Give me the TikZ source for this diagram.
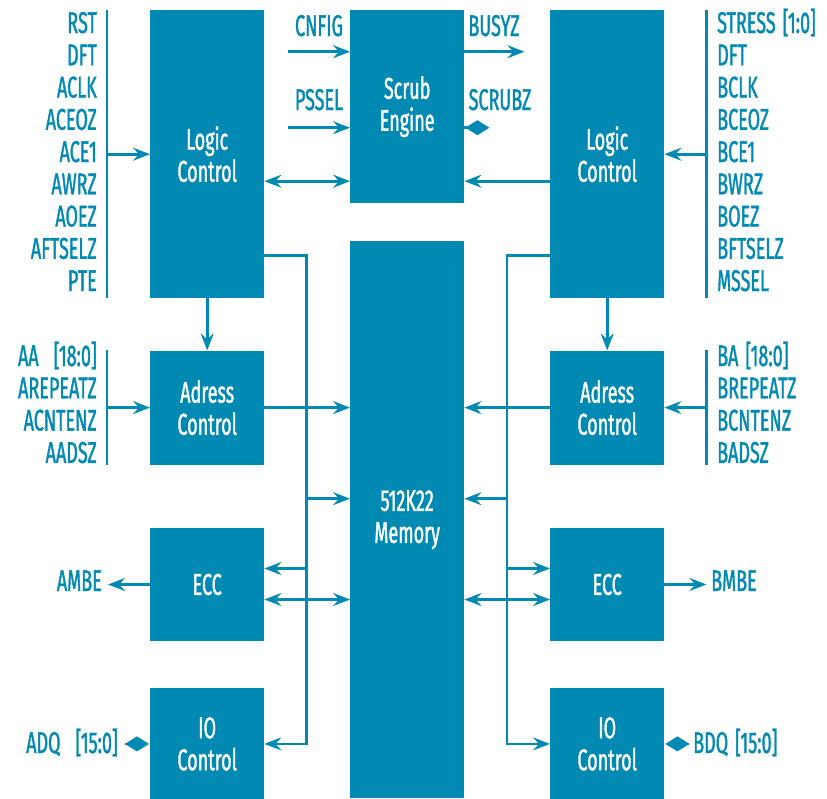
\documentclass[tikz,border=0pt]{standalone}
\usepackage{fontspec}
\setmainfont{Fira Sans}[FakeStretch=0.6, FakeBold=1.2]
\usetikzlibrary{arrows.meta,positioning}
\definecolor{tiblue}{RGB}{0,137,179}

\begin{document}
\begin{tikzpicture}[
        x=1pt, y=-1pt,
        font=\fontsize{30pt}{32pt}\selectfont,
        box/.style={fill=tiblue, text=white, align=center, minimum width=114pt, inner sep=0pt},
        lbl/.style={text=tiblue, inner sep=1pt},
        wire/.style={draw=tiblue, line width=2.6pt},
        arr/.style={wire, -{Stealth[length=17pt,width=13pt,inset=6pt]}},
        darr/.style={wire, {Stealth[length=17pt,width=13pt,inset=6pt]}-{Stealth[length=17pt,width=13pt,inset=6pt]}},
        dia/.style={wire, -{Diamond[length=24pt,width=15pt]}}
    ]
    \useasboundingbox (0,0) rectangle (827,798);

    % blocks
    \node[box, minimum height=288pt, anchor=north west] (lcl) at (150,10) {Logic\\Control};
    \node[box, minimum height=193pt, anchor=north west] (scrub) at (350,10) {Scrub\\Engine};
    \node[box, minimum height=288pt, anchor=north west] (lcr) at (550,10) {Logic\\Control};
    \node[box, minimum height=557pt, anchor=north west] (mem) at (350,241) {512K22\\Memory};
    \node[box, minimum height=114pt, below=52pt of lcl] (ada) {Adress\\Control};
    \node[box, minimum height=113pt, below=63pt of ada] (ecca) {ECC};
    \node[box, minimum height=111pt, below=47pt of ecca] (ioa) {IO\\Control};
    \node[box, minimum height=114pt, below=52pt of lcr] (adr) {Adress\\Control};
    \node[box, minimum height=113pt, below=63pt of adr] (eccr) {ECC};
    \node[box, minimum height=111pt, below=47pt of eccr] (ior) {IO\\Control};

    % signal names
    \foreach \s [count=\i from 0] in {RST,DFT,ACLK,ACEOZ,ACE1,AWRZ,AOEZ,AFTSELZ,PTE}
        \node[lbl, anchor=base east] (la\i) at (98,33+32.25*\i) {\s};
    \foreach \s [count=\i from 0] in {STRESS\hspace{7pt}[1:0],DFT,BCLK,BCEOZ,BCE1,BWRZ,BOEZ,BFTSELZ,MSSEL}
        \node[lbl, anchor=base west] (lb\i) at (716,33+32.25*\i) {\s};
    \foreach \s [count=\i from 0] in {AA\hspace{15pt}[18:0],AREPEATZ,ACNTENZ,AADSZ}
        \node[lbl, anchor=base east] (aa\i) at (98,366+32.3*\i) {\s};
    \foreach \s [count=\i from 0] in {BA\hspace{7pt}[18:0],BREPEATZ,BCNTENZ,BADSZ}
        \node[lbl, anchor=base west] (ba\i) at (716,366+32.3*\i) {\s};
    \node[lbl, anchor=base] (cnfig) at (319,36) {CNFIG};
    \node[lbl, anchor=base] (pssel) at (319,110) {PSSEL};
    \node[lbl, anchor=base] (busyz) at (494,36) {BUSYZ};
    \node[lbl, anchor=base] (scrubz) at (500,110) {SCRUBZ};
    \node[lbl, anchor=base east] (ambe) at (103,591) {AMBE};
    \node[lbl, anchor=base west] (bmbe) at (710,591) {BMBE};
    \node[lbl, anchor=base east] (adq) at (119,753) {ADQ\hspace{15pt}[15:0]};
    \node[lbl, anchor=base west] (bdq) at (692,753) {BDQ\hspace{7pt}[15:0]};

    % input bars
    \draw[wire] ([xshift=-43pt]lcl.north west) -- ([xshift=-43pt]lcl.south west);
    \draw[arr] ([xshift=-43pt]lcl.west) -- (lcl.west);
    \draw[wire] ([xshift=-43pt]ada.north west) -- ([xshift=-43pt]ada.south west);
    \draw[arr] ([xshift=-43pt]ada.west) -- (ada.west);
    \draw[wire] ([xshift=42pt]lcr.north east) -- ([xshift=42pt]lcr.south east);
    \draw[arr] ([xshift=42pt]lcr.east) -- (lcr.east);
    \draw[wire] ([xshift=42pt]adr.north east) -- ([xshift=42pt]adr.south east);
    \draw[arr] ([xshift=42pt]adr.east) -- (adr.east);

    % scrub engine
    \draw[arr] ([shift={(-62pt,55pt)}]scrub.west) -- ([yshift=55pt]scrub.west);
    \draw[arr] ([shift={(-62pt,-21pt)}]scrub.west) -- ([yshift=-21pt]scrub.west);
    \draw[arr] ([yshift=55pt]scrub.east) -- ++(60,0);
    \draw[dia] ([yshift=-21pt]scrub.east) -- ++(25,0);
    \draw[darr] ([yshift=-27pt]lcl.east) -- ([yshift=-27pt]lcl.east -| scrub.west);
    \draw[arr] ([yshift=-27pt]lcr.west) -- ([yshift=-27pt]lcr.west -| scrub.east);

    % logic to address
    \draw[arr] (lcl.south) -- (ada.north);
    \draw[arr] (lcr.south) -- (adr.north);

    % left bus
    \draw[arr] ([yshift=-101pt]lcl.east) -- ++(42,0) coordinate (bl) |- (ioa.east);
    \draw[arr] (ada.east) -- (ada.east -| mem.west);
    \draw[arr] ([yshift=21pt]mem.west -| bl) -- ([yshift=21pt]mem.west);
    \draw[arr] ([yshift=16pt]ecca.east -| bl) -- ([yshift=16pt]ecca.east);
    \draw[darr] ([yshift=-15pt]ecca.east) -- ([yshift=-15pt]ecca.east -| mem.west);

    % right bus
    \draw[arr] ([yshift=-101pt]lcr.west) -- ++(-43,0) coordinate (br) |- (ior.west);
    \draw[arr] (adr.west) -- (adr.west -| mem.east);
    \draw[arr] ([yshift=21pt]mem.east -| br) -- ([yshift=21pt]mem.east);
    \draw[arr] ([yshift=16pt]eccr.west -| br) -- ([yshift=16pt]eccr.west);
    \draw[darr] ([yshift=-15pt]eccr.west) -- ([yshift=-15pt]eccr.west -| mem.east);

    % outputs
    \draw[arr] (ecca.west) -- ++(-42,0);
    \draw[arr] (eccr.east) -- ++(42,0);
    \draw[dia] ([xshift=-25pt]ioa.west) -- ([xshift=-1pt]ioa.west);
    \draw[dia] ([xshift=25pt]ior.east) -- ([xshift=1pt]ior.east);
\end{tikzpicture}
\end{document}
